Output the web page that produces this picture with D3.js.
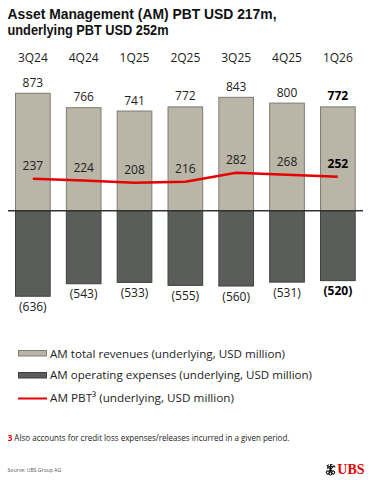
<!DOCTYPE html>
<html>
<head>
<meta charset="utf-8">
<script src="https://cdn.jsdelivr.net/npm/d3@7"></script>
<style>
  html, body { margin: 0; padding: 0; background: #fff; }
  svg { display: block; }
</style>
</head>
<body>
<svg id="chart" width="371" height="480"></svg>
<script>
const categories = ["3Q24", "4Q24", "1Q25", "2Q25", "3Q25", "4Q25", "1Q26"];
const revenues = [873, 766, 741, 772, 843, 800, 772];
const expenses = [-636, -543, -533, -555, -560, -531, -520];
const pbt = [237, 224, 208, 216, 282, 268, 252];
const expenseLabels = ["(636)", "(543)", "(533)", "(555)", "(560)", "(531)", "(520)"];
const titleLines = ["Asset Management (AM) PBT USD 217m,", "underlying PBT USD 252m"];
const legendItems = [
  "AM total revenues (underlying, USD million)",
  "AM operating expenses (underlying, USD million)",
  "AM PBT³ (underlying, USD million)"
];
const footnote = "Also accounts for credit loss expenses/releases incurred in a given period.";
const source = "Source: UBS Group AG";

const FONT = "'Open Sans', 'Noto Sans', sans-serif";
const svg = d3.select("#chart").style("font-family", FONT);
const colRev = "#b9b5a7", colRevStroke = "#7e7c74";
const colExp = "#5b5d5b", colExpStroke = "#3e403e";
const colRed = "#e60000";

function fit(sel, target) {
  const node = sel.node();
  let fs = parseFloat(sel.attr("font-size"));
  const w = node.getComputedTextLength();
  sel.attr("font-size", (fs * target / w).toFixed(2));
}

// Title: two lines (compact-metric face so the tight leading does not collide)
const titleY = [18.5, 34.5];
const titleW = [269, 161];
titleLines.forEach((t, i) => {
  svg.append("text").attr("x", 7.5).attr("y", titleY[i])
    .style("font-family", "'Liberation Sans', Arial, sans-serif")
    .attr("font-size", 14).attr("font-weight", 700).attr("fill", "#111")
    .attr("textLength", titleW[i]).attr("lengthAdjust", "spacingAndGlyphs").text(t);
});

const x = d3.scaleBand().domain(categories).range([15, 355.7]).paddingInner(0.298).paddingOuter(0);
const y = d3.scaleLinear().domain([-700, 900]).range([210.7 + 700 * 0.1345, 210.7 - 900 * 0.1345]);
const last = categories.length - 1;

// Category labels
svg.append("g").selectAll("text").data(categories).join("text")
  .attr("x", d => x(d) + x.bandwidth() / 2).attr("y", 61.5)
  .attr("text-anchor", "middle").attr("font-size", 12).attr("fill", "#222").text(d => d);

// Revenue bars
svg.append("g").selectAll("rect").data(revenues).join("rect")
  .attr("x", (d, i) => x(categories[i]) + 0.5).attr("y", d => y(d))
  .attr("width", x.bandwidth() - 1).attr("height", d => y(0) - y(d))
  .attr("fill", colRev).attr("stroke", colRevStroke).attr("stroke-width", 1);

// Expense bars
svg.append("g").selectAll("rect").data(expenses).join("rect")
  .attr("x", (d, i) => x(categories[i]) + 0.5).attr("y", y(0))
  .attr("width", x.bandwidth() - 1).attr("height", d => y(d) - y(0))
  .attr("fill", colExp).attr("stroke", colExpStroke).attr("stroke-width", 1);

// Zero axis line
svg.append("line").attr("x1", 8).attr("x2", 363).attr("y1", y(0)).attr("y2", y(0))
  .attr("stroke", "#333").attr("stroke-width", 1.5);

// Revenue labels
svg.append("g").selectAll("text").data(revenues).join("text")
  .attr("x", (d, i) => x(categories[i]) + x.bandwidth() / 2).attr("y", d => y(d) - 6.5)
  .attr("text-anchor", "middle").attr("font-size", 12)
  .attr("font-weight", (d, i) => i === last ? 700 : 400)
  .attr("fill", (d, i) => i === last ? "#000" : "#222").text(d => d);

// Expense labels
svg.append("g").selectAll("text").data(expenses).join("text")
  .attr("x", (d, i) => x(categories[i]) + x.bandwidth() / 2).attr("y", d => y(d) + 14.5)
  .attr("text-anchor", "middle").attr("font-size", 12)
  .attr("font-weight", (d, i) => i === last ? 700 : 400)
  .attr("fill", (d, i) => i === last ? "#000" : "#222").text((d, i) => expenseLabels[i]);

// PBT line
const line = d3.line().x((d, i) => x(categories[i]) + x.bandwidth() / 2).y(d => y(d));
svg.append("path").datum(pbt).attr("d", line).attr("fill", "none")
  .attr("stroke", colRed).attr("stroke-width", 2.5);

// PBT labels
svg.append("g").selectAll("text").data(pbt).join("text")
  .attr("x", (d, i) => x(categories[i]) + x.bandwidth() / 2).attr("y", d => y(d) - 9)
  .attr("text-anchor", "middle").attr("font-size", 12)
  .attr("font-weight", (d, i) => i === last ? 700 : 400)
  .attr("fill", (d, i) => i === last ? "#000" : "#222").text(d => d);

// Legend
const lg = svg.append("g");
lg.append("rect").attr("x", 18.5).attr("y", 350.5).attr("width", 28).attr("height", 5.5)
  .attr("fill", colRev).attr("stroke", colRevStroke).attr("stroke-width", 1);
lg.append("rect").attr("x", 18.5).attr("y", 372.5).attr("width", 28).attr("height", 5.5)
  .attr("fill", colExp).attr("stroke", colExpStroke).attr("stroke-width", 1);
lg.append("line").attr("x1", 18).attr("x2", 47).attr("y1", 398.5).attr("y2", 398.5)
  .attr("stroke", colRed).attr("stroke-width", 2);
const legY = [357.5, 379, 401.5];
const legW = [235, 262, 184];
legendItems.forEach((t, i) => {
  lg.append("text").attr("x", 50).attr("y", legY[i]).attr("font-size", 11.5)
    .attr("fill", "#222").attr("textLength", legW[i]).attr("lengthAdjust", "spacingAndGlyphs").text(t);
});

// Footnote
const fn = svg.append("text").attr("x", 7.7).attr("y", 441).attr("font-size", 8.5).attr("fill", "#222");
fn.append("tspan").attr("fill", colRed).attr("font-weight", 700).text("3");
fn.append("tspan").text(" " + footnote);
fit(fn, 282);

// Source
const src = svg.append("text").attr("x", 7.5).attr("y", 471.5).attr("font-size", 5.5)
  .attr("fill", "#555").text(source);
fit(src, 54);

// UBS logo
const logo = svg.append("g").attr("transform", "translate(330.5,469.5)");
const keyG = logo.append("g").attr("fill", "none").attr("stroke", "#111").attr("stroke-width", 1.1);
[-42, 0, 42].forEach(a => {
  const k = keyG.append("g").attr("transform", `rotate(${a})`);
  k.append("line").attr("x1", 0).attr("y1", -5.5).attr("x2", 0).attr("y2", 2.5);
  k.append("line").attr("x1", 0).attr("y1", -4.8).attr("x2", 2).attr("y2", -4.8);
  k.append("line").attr("x1", 0).attr("y1", -3).attr("x2", -2).attr("y2", -3);
  k.append("circle").attr("cx", 0).attr("cy", 4).attr("r", 1.5);
});
logo.append("text").attr("x", 6.8).attr("y", 4.5)
  .style("font-family", "'Liberation Serif', 'DejaVu Serif', serif")
  .attr("font-weight", 700).attr("font-size", 14).attr("fill", colRed).text("UBS");
</script>
</body>
</html>
